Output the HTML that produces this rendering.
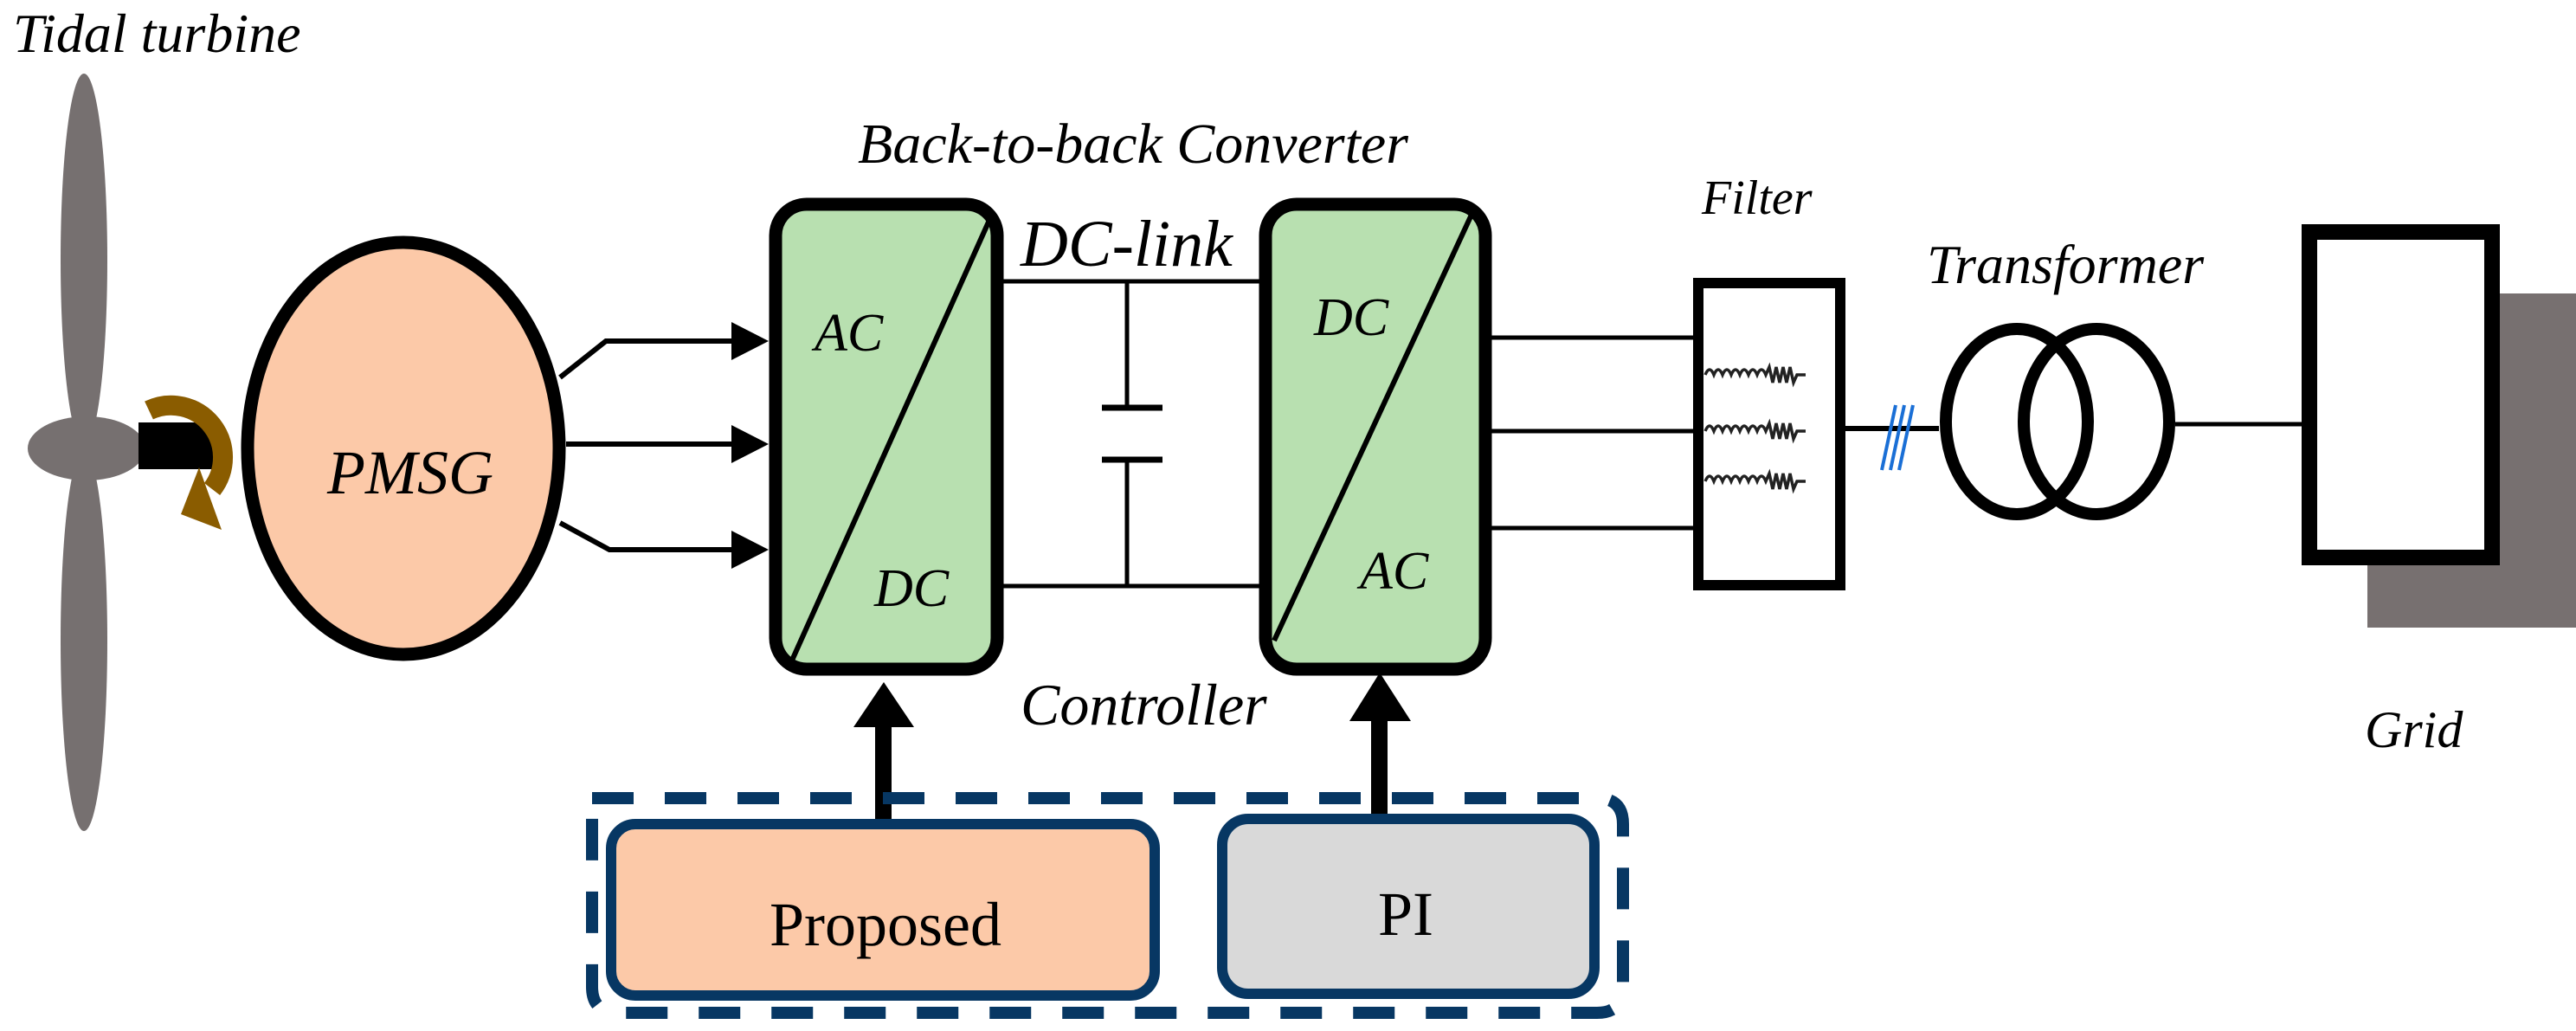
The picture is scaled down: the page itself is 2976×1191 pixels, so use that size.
<!DOCTYPE html>
<html><head><meta charset="utf-8"><style>
html,body{margin:0;padding:0;background:#fff;}
svg{display:block;}
text{font-family:"Liberation Serif",serif;}
.it{font-style:italic;}
</style></head><body>
<svg width="2976" height="1191" viewBox="0 0 2976 1191" xmlns="http://www.w3.org/2000/svg">
<!-- Turbine -->
<text x="15" y="60" class="it" font-size="64">Tidal turbine</text>
<ellipse cx="97" cy="300" rx="27" ry="215" fill="#767070"/>
<ellipse cx="97" cy="740" rx="27" ry="220" fill="#767070"/>
<ellipse cx="100" cy="518" rx="68" ry="37" fill="#767070"/>
<path d="M160,488 L225,488 Q252,490 252,515 L252,542 L160,542 Z" fill="#000"/>
<path d="M172,474 A60,60 0 0 1 245,565" fill="none" stroke="#8a5c00" stroke-width="23"/>
<polygon points="230,540 209,594 256,612" fill="#8a5c00"/>
<!-- PMSG -->
<ellipse cx="466" cy="518" rx="180" ry="238" fill="#fcc9a8" stroke="#000" stroke-width="15"/>
<text x="474" y="570" class="it" font-size="72" text-anchor="middle">PMSG</text>
<!-- Arrows to conv1 -->
<g stroke="#000" stroke-width="6" fill="none">
<polyline points="647,436 700,394 850,394"/>
<line x1="654" y1="513" x2="850" y2="513"/>
<polyline points="647,604 704,635 850,635"/>
</g>
<g fill="#000">
<polygon points="845,372 888,394 845,416"/>
<polygon points="845,491 888,513 845,535"/>
<polygon points="845,613 888,635 845,657"/>
</g>
<text x="991" y="188" class="it" font-size="66">Back-to-back Converter</text>
<!-- Conv1 -->
<rect x="896" y="236" width="256" height="537" rx="36" fill="#b8e0b0" stroke="#000" stroke-width="15"/>
<line x1="1144" y1="252" x2="914" y2="765" stroke="#000" stroke-width="6"/>
<text x="941" y="405" class="it" font-size="62">AC</text>
<text x="1010" y="700" class="it" font-size="62">DC</text>
<!-- DC link -->
<g stroke="#000" stroke-width="5" fill="none">
<line x1="1159" y1="325" x2="1457" y2="325"/>
<line x1="1159" y1="677" x2="1457" y2="677"/>
<line x1="1302" y1="325" x2="1302" y2="471"/>
<line x1="1302" y1="531" x2="1302" y2="677"/>
</g>
<g stroke="#000" stroke-width="7">
<line x1="1273" y1="471" x2="1343" y2="471"/>
<line x1="1273" y1="531" x2="1343" y2="531"/>
</g>
<text x="1179" y="307" class="it" font-size="76">DC-link</text>
<!-- Conv2 -->
<rect x="1462" y="236" width="254" height="537" rx="36" fill="#b8e0b0" stroke="#000" stroke-width="15"/>
<line x1="1700" y1="248" x2="1472" y2="740" stroke="#000" stroke-width="6"/>
<text x="1518" y="387" class="it" font-size="62">DC</text>
<text x="1571" y="680" class="it" font-size="62">AC</text>
<!-- Output wires -->
<g stroke="#000" stroke-width="5">
<line x1="1723" y1="390" x2="1957" y2="390"/>
<line x1="1723" y1="498" x2="1957" y2="498"/>
<line x1="1723" y1="610" x2="1957" y2="610"/>
</g>
<!-- Filter -->
<text x="1966" y="247" class="it" font-size="56">Filter</text>
<rect x="1962" y="327" width="164" height="349" fill="#fff" stroke="#000" stroke-width="12"/>
<g stroke="#222" stroke-width="3.5" fill="none">
<path d="M1970,433 q5,-12 10,0 q5,-12 10,0 q5,-12 10,0 q5,-12 10,0 q5,-12 10,0 q5,-12 10,0 q5,-12 10,0 l4,-9 4,18 4,-18 4,18 4,-18 4,18 4,-18 4,18 4,-9 l10,0"/>
<path d="M1970,498 q5,-12 10,0 q5,-12 10,0 q5,-12 10,0 q5,-12 10,0 q5,-12 10,0 q5,-12 10,0 q5,-12 10,0 l4,-9 4,18 4,-18 4,18 4,-18 4,18 4,-18 4,18 4,-9 l10,0"/>
<path d="M1970,556 q5,-12 10,0 q5,-12 10,0 q5,-12 10,0 q5,-12 10,0 q5,-12 10,0 q5,-12 10,0 q5,-12 10,0 l4,-9 4,18 4,-18 4,18 4,-18 4,18 4,-18 4,18 4,-9 l10,0"/>
</g>
<line x1="2132" y1="495" x2="2240" y2="495" stroke="#000" stroke-width="6"/>
<g stroke="#1a6fd6" stroke-width="4">
<line x1="2190" y1="468" x2="2174" y2="543"/>
<line x1="2200" y1="468" x2="2184" y2="543"/>
<line x1="2210" y1="468" x2="2194" y2="543"/>
</g>
<!-- Transformer -->
<text x="2226" y="327" class="it" font-size="64">Transformer</text>
<ellipse cx="2330" cy="487" rx="82" ry="107" fill="none" stroke="#000" stroke-width="14"/>
<ellipse cx="2422" cy="487" rx="84" ry="107" fill="none" stroke="#000" stroke-width="14"/>
<line x1="2513" y1="490" x2="2662" y2="490" stroke="#000" stroke-width="5"/>
<!-- Grid -->
<rect x="2735" y="339" width="241" height="386" fill="#777070"/>
<rect x="2668" y="268" width="211" height="376" fill="#fff" stroke="#000" stroke-width="18"/>
<text x="2732" y="863" class="it" font-size="60">Grid</text>
<text x="1179" y="837" class="it" font-size="68">Controller</text>
<!-- Control arrows -->
<rect x="1011" y="830" width="19" height="120" fill="#000"/>
<polygon points="1021,788 1056,840 986,840" fill="#000"/>
<rect x="1584" y="825" width="19" height="125" fill="#000"/>
<polygon points="1594,777 1630,833 1559,833" fill="#000"/>
<!-- Dashed box -->
<path d="M684,922 L1845,922 Q1875,922 1875,952 L1875,1140 Q1875,1170 1845,1170 L714,1170 Q684,1170 684,1140 Z" fill="none" stroke="#073763" stroke-width="14" stroke-dasharray="48,36"/>
<rect x="706" y="952" width="628" height="198" rx="28" fill="#fcc9a8" stroke="#073763" stroke-width="12"/>
<text x="1023" y="1092" font-size="72" text-anchor="middle">Proposed</text>
<rect x="1412" y="946" width="430" height="202" rx="30" fill="#d9d9d9" stroke="#073763" stroke-width="12"/>
<text x="1624" y="1080" font-size="72" text-anchor="middle">PI</text>
</svg>
</body></html>
